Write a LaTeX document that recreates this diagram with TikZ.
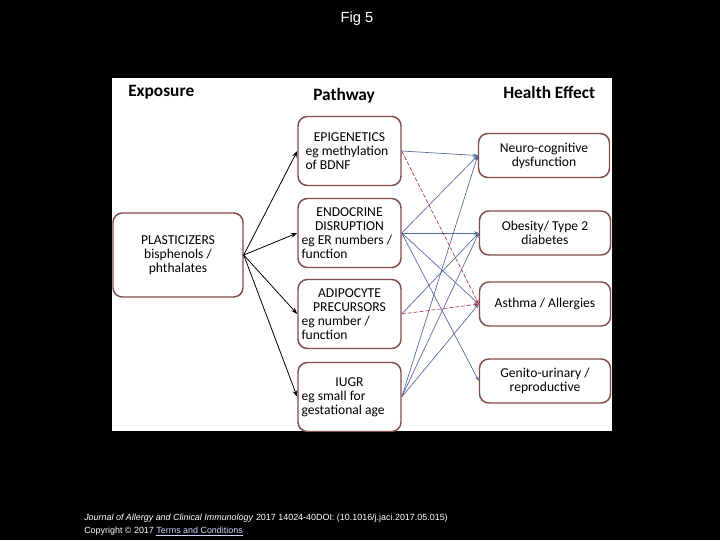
\documentclass[tikz,border=0pt]{standalone}
\usepackage{fontspec}
\setmainfont{Carlito}
\newfontfamily\captionfont{Liberation Sans}
\usetikzlibrary{arrows.meta}

\definecolor{boxrim}{RGB}{128,78,78}
\definecolor{linkblue}{RGB}{84,104,158}
\definecolor{linkred}{RGB}{176,58,68}
\definecolor{termsblue}{RGB}{205,215,255}

\newcommand{\midline}[1]{\makebox[\linewidth]{#1}}

\tikzset{
  box/.style={draw=boxrim, line width=1.1pt, rounded corners=7pt, fill=white,
    font=\fontsize{10.2}{10.6}\selectfont, inner sep=0pt},
  exposurebox/.style={box, minimum width=97.5pt, minimum height=63pt, align=center},
  pathbox/.style={box, minimum width=77.25pt, minimum height=51.75pt, text width=72pt, align=flush left},
  effectbox/.style={box, minimum width=98.25pt, minimum height=33pt, align=center},
  heading/.style={font=\fontsize{13}{15}\selectfont\bfseries, anchor=base west, inner sep=0pt},
  footer/.style={font=\captionfont\fontsize{6.7}{8}\selectfont, text=white, anchor=base west, inner sep=0pt},
  feed/.style={-{Stealth[length=5pt,width=3.5pt]}, line width=0.6pt, black},
  link/.style={-{Stealth[length=3.5pt,width=2.5pt]}, line width=0.5pt, linkblue},
  dashlink/.style={link, linkred, dash pattern=on 3pt off 1.5pt},
}

\begin{document}
\begin{tikzpicture}[x=0.75pt,y=-0.75pt]
\fill[black] (0,0) rectangle (720,540);
\node[font=\captionfont\fontsize{11}{13}\selectfont, text=white] (title) at (357,19) {Fig 5};
\fill[white] (112,78) rectangle (612,431);
\begin{scope}
\clip (112,78) rectangle (612,431);
% column headings
\node[heading] (hexp) at (128,96) {Exposure};
\node[heading] (hpath) at (313,100) {Pathway};
\node[heading] (heff) at (503,98) {Health Effect};
% exposure
\node[exposurebox] (plast) at (178,255) {PLASTICIZERS\\bisphenols /\\phthalates};
% pathways
\node[pathbox, text width=66pt] (epig) at (349.5,151) {\midline{EPIGENETICS}\\eg methylation\\of BDNF};
\node[pathbox] (endo) at (349.5,233) {\midline{ENDOCRINE}\\\midline{DISRUPTION}\\eg ER numbers /\\function};
\node[pathbox] (adipo) at (349.5,314) {\midline{ADIPOCYTE}\\\midline{PRECURSORS}\\eg number /\\function};
\node[pathbox] (iugr) at (349.5,397) {\midline{IUGR}\\eg small for\\gestational age};
% health effects
\node[effectbox] (neuro) at (544,155.5) {Neuro-cognitive\\dysfunction};
\node[effectbox] (obes) at (545,233) {Obesity/ Type 2\\diabetes};
\node[effectbox] (asthma) at (545,304) {Asthma / Allergies};
\node[effectbox] (genito) at (545,381) {Genito-urinary /\\reproductive};
% exposure to pathways
\draw[feed] (plast.east) -- (epig.west);
\draw[feed] (plast.east) -- (endo.west);
\draw[feed] (plast.east) -- (adipo.west);
\draw[feed] (plast.east) -- (iugr.west);
% pathways to effects
\draw[link] (epig.east) -- (neuro.west);
\draw[link] (endo.east) -- (neuro.west);
\draw[link] (endo.east) -- (obes.west);
\draw[link] (endo.east) -- (asthma.west);
\draw[link] (endo.east) -- (genito.west);
\draw[link] (adipo.east) -- (obes.west);
\draw[link] (iugr.east) -- (neuro.west);
\draw[link] (iugr.east) -- (obes.west);
\draw[link] (iugr.east) -- (asthma.west);
\draw[dashlink] (epig.east) -- (asthma.west);
\draw[dashlink] (adipo.east) -- (asthma.west);
\end{scope}
% source line
\node[footer] (cite) at (84,520) {\textit{Journal of Allergy and Clinical Immunology} 2017 14024-40DOI: (10.1016/j.jaci.2017.05.015)};
\node[footer] (rights) at (84,533) {Copyright © 2017 \textcolor{termsblue}{\underline{Terms and Conditions}}};
\end{tikzpicture}
\end{document}
